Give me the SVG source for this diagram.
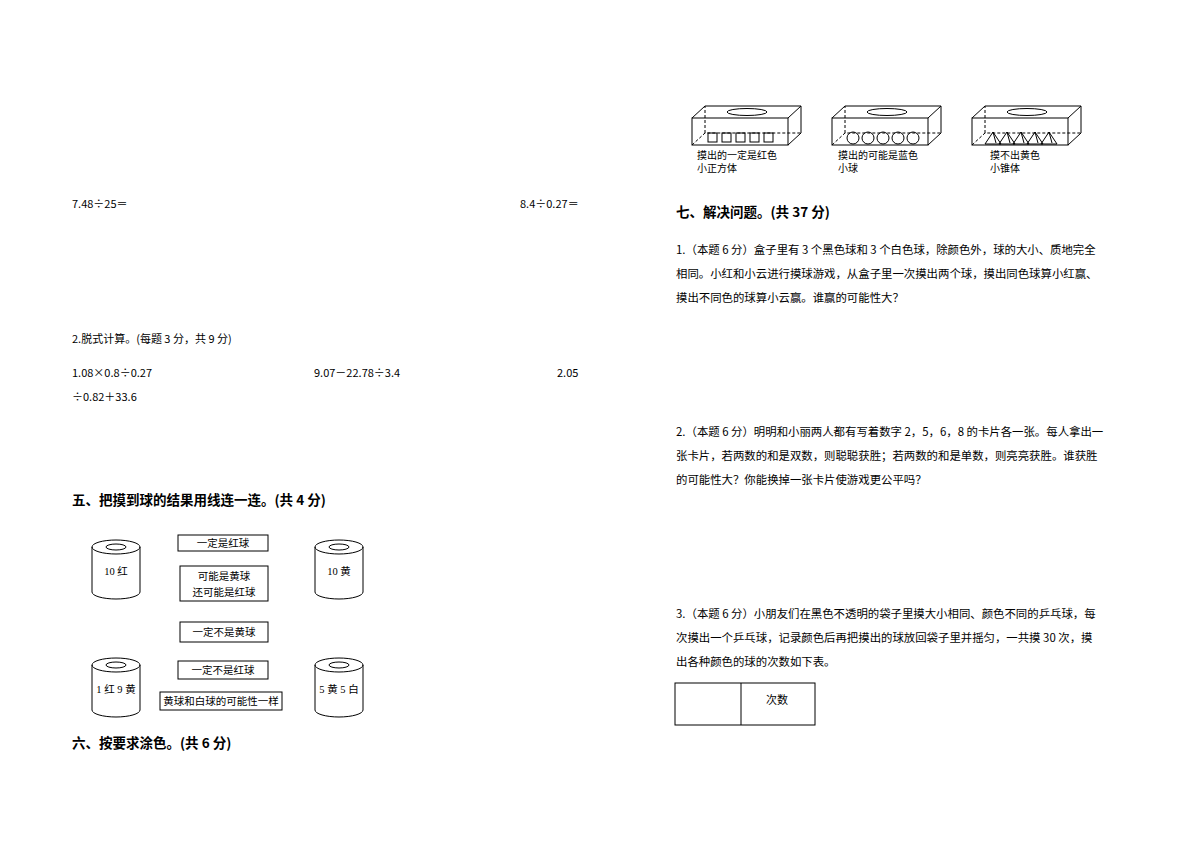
<svg xmlns="http://www.w3.org/2000/svg" width="1200" height="848" viewBox="0 0 1200 848">
<style>
text{font-family:"Noto Sans CJK SC",sans-serif;font-size:11px;fill:#000}
.r{font-size:11.4px}
.h{font-size:13.5px;font-weight:bold}
.s{font-size:10px}
.b{font-family:"Liberation Serif","Noto Sans CJK SC",serif;font-size:10.5px}
.ln{fill:none;stroke:#000;stroke-width:1}
.d{fill:none;stroke:#000;stroke-width:1;stroke-dasharray:3,2}
.c{text-anchor:middle}
</style>
<defs>
<g id="cyl">
<path class="ln" d="M-24,0 V45 A24,7 0 0 0 24,45 V0"/>
<ellipse class="ln" cx="0" cy="0" rx="24" ry="7"/>
<ellipse class="ln" cx="0" cy="0" rx="10" ry="3"/>
</g>
<g id="box">
<rect class="ln" x="0" y="12" width="96" height="27"/>
<path class="ln" d="M0,12 L13,0 H109 V27 L96,39 M109,0 L96,12"/>
<path class="d" d="M0,39 L13,27 H109 M13,27 V0"/>
<ellipse class="ln" cx="55" cy="6" rx="20" ry="3.5"/>
</g>
</defs>
<text x="72" y="208">7.48÷25＝</text>
<text x="520" y="208">8.4÷0.27＝</text>
<text x="72" y="343">2.脱式计算。(每题 3 分，共 9 分)</text>
<text x="72" y="377">1.08×0.8÷0.27</text>
<text x="314" y="377">9.07－22.78÷3.4</text>
<text x="557" y="377">2.05</text>
<text x="72" y="401">÷0.82＋33.6</text>
<text class="h" x="72" y="505">五、把摸到球的结果用线连一连。(共 4 分)</text>
<g id="c1"><use href="#cyl" x="116" y="547"/><text class="c b" x="116" y="575">10 红</text></g>
<g id="c2"><use href="#cyl" x="339" y="547"/><text class="c b" x="339" y="575">10 黄</text></g>
<g id="c3"><use href="#cyl" x="116" y="665"/><text class="c b" x="116" y="693">1 红 9 黄</text></g>
<g id="c4"><use href="#cyl" x="339" y="665"/><text class="c b" x="339" y="693">5 黄 5 白</text></g>
<g id="b1"><rect class="ln" x="178" y="535" width="90" height="16"/><text class="c b" x="223" y="547">一定是红球</text></g>
<g id="b2"><rect class="ln" x="180" y="566" width="88" height="35"/><text class="c b" x="224" y="580">可能是黄球</text><text class="c b" x="224" y="596">还可能是红球</text></g>
<g id="b3"><rect class="ln" x="180" y="622" width="88" height="20"/><text class="c b" x="224" y="636">一定不是黄球</text></g>
<g id="b4"><rect class="ln" x="178" y="661" width="90" height="18"/><text class="c b" x="223" y="674">一定不是红球</text></g>
<g id="b5"><rect class="ln" x="160" y="692" width="122" height="18"/><text class="c b" x="221" y="705" font-size="10">黄球和白球的可能性一样</text></g>
<text class="h" x="72" y="748">六、按要求涂色。(共 6 分)</text>
<g id="box1"><use href="#box" x="692" y="106"/>
<g class="ln"><rect x="708" y="133" width="9" height="9"/><rect x="722" y="133" width="9" height="9"/><rect x="736" y="133" width="9" height="9"/><rect x="750" y="133" width="9" height="9"/><rect x="764" y="133" width="9" height="9"/></g>
<text class="s" x="697" y="159">摸出的一定是红色</text><text class="s" x="697" y="172">小正方体</text></g>
<g id="box2"><use href="#box" x="832" y="106"/>
<g class="ln"><circle cx="853" cy="138" r="6"/><circle cx="868" cy="138" r="6"/><circle cx="883" cy="138" r="6"/><circle cx="898" cy="138" r="6"/><circle cx="913" cy="138" r="6"/></g>
<text class="s" x="838" y="159">摸出的可能是蓝色</text><text class="s" x="838" y="172">小球</text></g>
<g id="box3"><use href="#box" x="972" y="106"/>
<g class="ln"><path d="M985,144 L993,132 L1001,144 Z M993,132 L996,143 M999,144 L1007,132 L1015,144 Z M1007,132 L1010,143 M1013,144 L1021,132 L1029,144 Z M1021,132 L1024,143 M1027,144 L1035,132 L1043,144 Z M1035,132 L1038,143 M1041,144 L1049,132 L1057,144 Z M1049,132 L1052,143"/></g>
<text class="s" x="990" y="159">摸不出黄色</text><text class="s" x="990" y="172">小锥体</text></g>
<text class="h" x="676" y="217">七、解决问题。(共 37 分)</text>
<g class="r">
<text class="r" x="676" y="254">1.（本题 6 分）盒子里有 3 个黑色球和 3 个白色球，除颜色外，球的大小、质地完全</text>
<text class="r" x="676" y="278">相同。小红和小云进行摸球游戏，从盒子里一次摸出两个球，摸出同色球算小红赢、</text>
<text class="r" x="676" y="302">摸出不同色的球算小云赢。谁赢的可能性大？</text>
<text class="r" x="676" y="436">2.（本题 6 分）明明和小丽两人都有写着数字 2，5，6，8 的卡片各一张。每人拿出一</text>
<text class="r" x="676" y="460">张卡片，若两数的和是双数，则聪聪获胜；若两数的和是单数，则亮亮获胜。谁获胜</text>
<text class="r" x="676" y="484">的可能性大？你能换掉一张卡片使游戏更公平吗？</text>
<text class="r" x="676" y="618">3.（本题 6 分）小朋友们在黑色不透明的袋子里摸大小相同、颜色不同的乒乓球，每</text>
<text class="r" x="676" y="642">次摸出一个乒乓球，记录颜色后再把摸出的球放回袋子里并摇匀，一共摸 30 次，摸</text>
<text class="r" x="676" y="666">出各种颜色的球的次数如下表。</text>
</g>
<g id="table"><rect class="ln" x="675" y="683" width="140" height="42"/><line class="ln" x1="741" y1="683" x2="741" y2="725"/><text x="766" y="704">次数</text></g>
</svg>
